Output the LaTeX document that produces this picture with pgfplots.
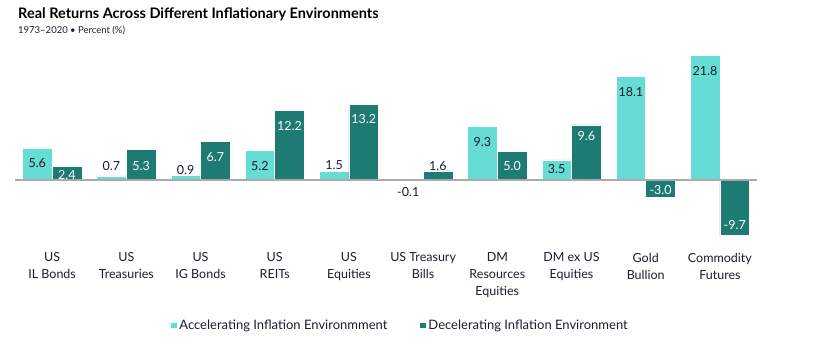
\documentclass[border=0pt]{standalone}
\usepackage{pgfplots}
\usepackage{pgfplotstable}
\pgfplotsset{compat=1.18}
\usepackage{fontspec}
\setmainfont{Lato}
\definecolor{accC}{HTML}{66DDD4}
\definecolor{decC}{HTML}{1E7B73}
\definecolor{txt}{HTML}{1C1C2C}
\definecolor{base}{HTML}{AAAAAA}

\pgfplotstableread{
x y off w
0 5.6 -15 0
1 0.7 10 0
2 0.9 5 0
3 5.2 -15.5 0
4 1.5 6 0
5 -0.1 -11 0
6 9.3 -15.5 0
7 3.5 -9 0
8 18.1 -15.5 0
9 21.8 -15.5 0
}\acc
\pgfplotstableread{
x y off w
0 2.4 -9 100
1 5.3 -16 100
2 6.7 -15.5 100
3 12.2 -15.5 100
4 13.2 -15 100
5 1.6 5 0
6 5.0 -14.5 100
7 9.6 -11 100
8 -3.0 7 100
9 -9.7 10.5 100
}\dec

\begin{document}
\begin{tikzpicture}
\useasboundingbox (0,0) rectangle (827pt,345pt);
\node[anchor=west, font=\bfseries\fontsize{14.5}{16}\selectfont, text=black, inner sep=0pt] at (18pt,331pt) {Real Returns Across Different Inflationary Environments};
\node[anchor=west, font=\fontsize{9.5}{11}\selectfont, text=txt, inner sep=0pt] at (18pt,314pt) {1973–2020 • Percent (\%)};
\begin{axis}[
  at={(15pt,107.7pt)}, anchor=south west,
  scale only axis, width=742pt, height=183.4pt,
  xmin=-0.5, xmax=9.5, ymin=-10, ymax=22,
  axis line style={draw=none}, tick style={draw=none},
  ytick=\empty,
  xtick={0,...,9},
  xticklabels={{US\\IL Bonds},{US\\Treasuries},{US\\IG Bonds},{US\\REITs},{US\\Equities},{US Treasury\\Bills},{DM\\Resources\\Equities},{DM ex US\\Equities},{Gold\\Bullion},{Commodity\\Futures}},
  xticklabel style={align=center, anchor=north, font=\fontsize{12.5}{17}\selectfont, text=txt, yshift=-12pt},
  /pgf/number format/assume math mode=true,
  nodes near coords={\pgfmathprintnumber[fixed,zerofill,precision=1]{\pgfplotspointmeta}},
  visualization depends on={\thisrow{off} \as \off},
  visualization depends on={\thisrow{w} \as \wv},
  every node near coord/.append style={anchor=center, yshift=\off pt, text=white!\wv!txt, font=\fontsize{12.5}{14}\selectfont},
  legend columns=2,
  legend style={at={(0.519,-0.48)}, anchor=center, draw=none, fill=none, font=\fontsize{13}{14}\selectfont, text=txt, /tikz/every even column/.append style={column sep=30pt}},
  legend image code/.code={\fill[#1] (0pt,-3pt) rectangle (6.5pt,3.5pt);},
]
\addplot[ybar, bar width=29.68pt, bar shift=-14.84pt, fill=accC, draw=white, line width=0.5pt, point meta=y, every node near coord/.append style={xshift=-14.84pt}] table[x=x,y=y] {\acc};
\addlegendentry{Accelerating Inflation Environmment}
\addplot[ybar, bar width=29.68pt, bar shift=14.84pt, fill=decC, draw=white, line width=0.5pt, point meta=y, every node near coord/.append style={xshift=14.84pt}] table[x=x,y=y] {\dec};
\addlegendentry{Decelerating Inflation Environment}
\draw[base, line width=1.3pt] (axis cs:-0.5,0) -- (axis cs:9.5,0);
\end{axis}
\end{tikzpicture}
\end{document}
